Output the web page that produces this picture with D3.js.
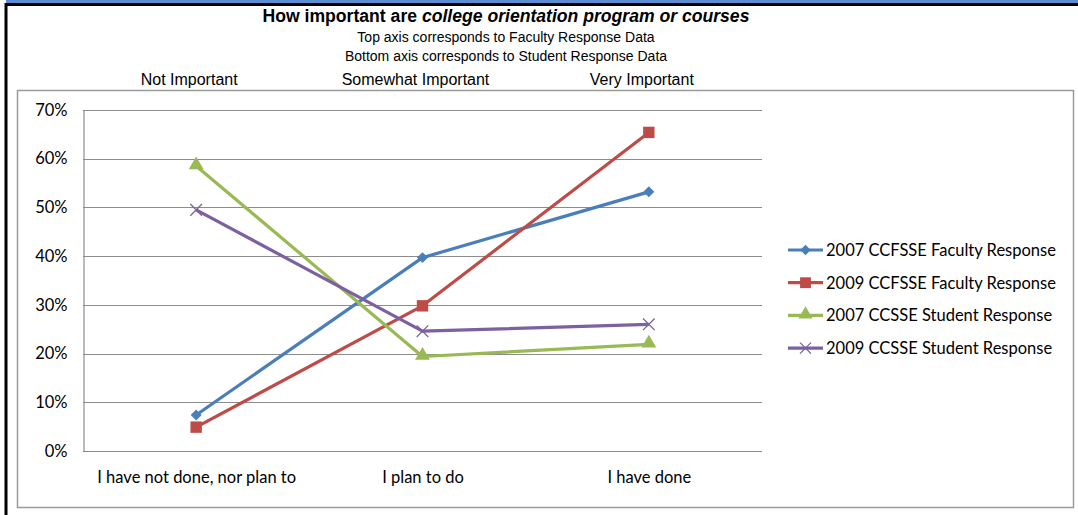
<!DOCTYPE html>
<html lang="en">
<head>
<meta charset="UTF-8">
<title>College orientation program or courses</title>
<script src="https://d3js.org/d3.v7.min.js"></script>
<style>
  body { margin: 0; background: #fff; }
</style>
</head>
<body>
<div id="chart"></div>
<script>
// data
var categories = ["I have not done, nor plan to", "I plan to do", "I have done"];
var topLabels = ["Not Important", "Somewhat Important", "Very Important"];
var seriesNames = ["2007 CCFSSE Faculty Response", "2009 CCFSSE Faculty Response",
                   "2007 CCSSE Student Response", "2009 CCSSE Student Response"];
var faculty2007 = [7.4, 39.7, 53.2];
var faculty2009 = [4.9, 29.8, 65.4];
var student2007 = [58.5, 19.4, 21.9];
var student2009 = [49.5, 24.6, 26.0];
var yTicks = [0, 10, 20, 30, 40, 50, 60, 70];

var colors = ["#4a7ebb", "#be4b48", "#98b954", "#7d60a0"];
var symbols = ["diamond", "square", "triangle", "cross"];
var allSeries = [faculty2007, faculty2009, student2007, student2009];

var W = 1078, H = 515;
var plot = {left: 83, right: 762, top: 110, bottom: 451};
var bodyFont = "Lato, 'Open Sans', sans-serif";
var arial = "'Liberation Sans', Arial, sans-serif";

var svg = d3.select("#chart").append("svg")
  .attr("width", W).attr("height", H);

// outer frame: blue strip, black border
svg.append("rect").attr("x", 6).attr("y", 0).attr("width", W - 6).attr("height", 3).attr("fill", "#5b8bd0");
svg.append("line").attr("x1", 5).attr("x2", W).attr("y1", 4.5).attr("y2", 4.5)
  .attr("stroke", "#000").attr("stroke-width", 3);
svg.append("line").attr("x1", 6).attr("x2", 6).attr("y1", 3).attr("y2", H)
  .attr("stroke", "#000").attr("stroke-width", 3);

// chart area box
svg.append("rect").attr("x", 17.5).attr("y", 90.5).attr("width", 1056).attr("height", 417)
  .attr("fill", "none").attr("stroke", "#9a9a9a").attr("stroke-width", 1.5);

// titles
var title = svg.append("text").attr("x", 506).attr("y", 22).attr("text-anchor", "middle")
  .attr("font-family", arial).attr("font-weight", "bold").attr("font-size", 17.6);
title.append("tspan").text("How important are ");
title.append("tspan").attr("font-style", "italic").text("college orientation program or courses");

svg.append("text").attr("x", 506).attr("y", 42).attr("text-anchor", "middle")
  .attr("font-family", arial).attr("font-size", 14)
  .text("Top axis corresponds to Faculty Response Data");
svg.append("text").attr("x", 506).attr("y", 61).attr("text-anchor", "middle")
  .attr("font-family", arial).attr("font-size", 14)
  .text("Bottom axis corresponds to Student Response Data");

// scales
var x = d3.scalePoint().domain(categories).range([plot.left, plot.right]).padding(0.5);
var y = d3.scaleLinear().domain([0, 70]).range([plot.bottom, plot.top]);

// top axis labels (faculty)
svg.selectAll(".toplab").data(topLabels).enter().append("text")
  .attr("class", "toplab")
  .attr("x", function(d, i) { return x(categories[i]) - 7; })
  .attr("y", 85)
  .attr("text-anchor", "middle")
  .attr("font-family", arial).attr("font-size", 16)
  .text(function(d) { return d; });

// gridlines
svg.append("g").selectAll("line").data(yTicks).enter().append("line")
  .attr("x1", plot.left).attr("x2", plot.right)
  .attr("y1", function(d) { return Math.round(y(d)) + 0.5; })
  .attr("y2", function(d) { return Math.round(y(d)) + 0.5; })
  .attr("stroke", "#8c8c8c").attr("stroke-width", 1.2);

// y axis
var yAxis = svg.append("g").attr("transform", "translate(" + (plot.left + 0.5) + ",0)")
  .call(d3.axisLeft(y).tickValues(yTicks).tickSize(0).tickPadding(16)
    .tickFormat(function(d) { return d + "%"; }))
  .attr("font-family", bodyFont).attr("font-size", 16.5);
yAxis.select(".domain").attr("stroke", "#8c8c8c").attr("stroke-width", 1.2);
yAxis.selectAll("text").attr("fill", "#000");

// x axis (students)
var xAxis = svg.append("g").attr("transform", "translate(0," + (Math.round(plot.bottom) + 0.5) + ")")
  .call(d3.axisBottom(x).tickSize(0).tickPadding(20))
  .attr("font-family", bodyFont).attr("font-size", 16.5);
xAxis.select(".domain").remove();
xAxis.selectAll("text").attr("fill", "#000");

// marker helper
function marker(g, type, color, cx, cy, scale) {
  scale = scale || 1;
  if (type === "diamond") {
    g.append("path").attr("d", d3.symbol(d3.symbolSquare, 60 * scale)())
      .attr("transform", "translate(" + cx + "," + cy + ") rotate(45)").attr("fill", color);
  } else if (type === "square") {
    g.append("path").attr("d", d3.symbol(d3.symbolSquare, 130 * scale)())
      .attr("transform", "translate(" + cx + "," + cy + ")").attr("fill", color);
  } else if (type === "triangle") {
    g.append("path").attr("d", d3.symbol(d3.symbolTriangle, 95 * scale)())
      .attr("transform", "translate(" + cx + "," + (cy - 1) + ")").attr("fill", color);
  } else {
    g.append("path").attr("d", d3.symbol(d3.symbolX, 90 * scale)())
      .attr("transform", "translate(" + cx + "," + cy + ")")
      .attr("fill", "none").attr("stroke", color).attr("stroke-width", 1.3);
  }
}

// lines
var line = d3.line()
  .x(function(d, i) { return x(categories[i]); })
  .y(function(d) { return y(d); });

allSeries.forEach(function(vals, s) {
  var g = svg.append("g");
  g.append("path").datum(vals).attr("d", line)
    .attr("fill", "none").attr("stroke", colors[s]).attr("stroke-width", 3.2)
    .attr("stroke-linejoin", "round");
  vals.forEach(function(v, i) {
    marker(g, symbols[s], colors[s], x(categories[i]), y(v));
  });
});

// legend
var legend = svg.append("g");
seriesNames.forEach(function(name, s) {
  var ly = 250 + s * 32.7;
  legend.append("line").attr("x1", 788).attr("x2", 823).attr("y1", ly).attr("y2", ly)
    .attr("stroke", colors[s]).attr("stroke-width", 3.2);
  marker(legend, symbols[s], colors[s], 805.5, ly, 0.9);
  legend.append("text").attr("x", 826).attr("y", ly + 6)
    .attr("font-family", bodyFont).attr("font-size", 16.5)
    .text(name);
});
</script>
</body>
</html>
